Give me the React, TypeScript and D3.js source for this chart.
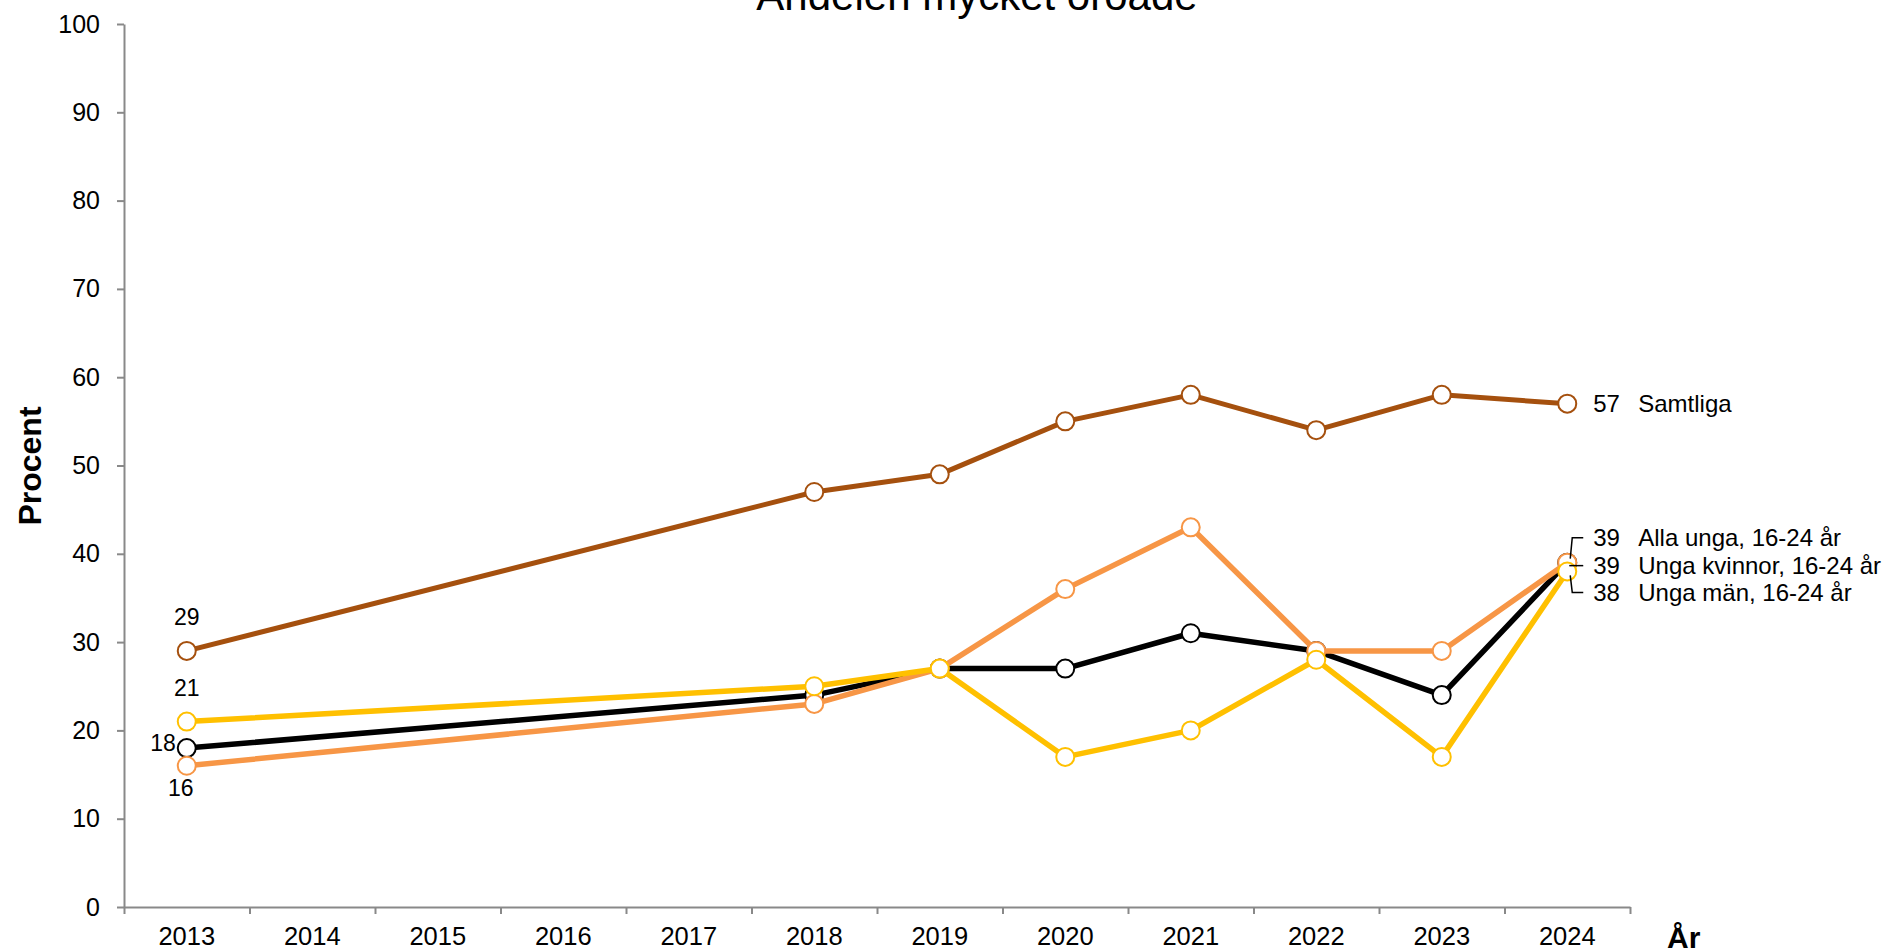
import React, { useEffect, useRef } from 'react'
import * as d3 from 'd3'

const years = ['2013', '2014', '2015', '2016', '2017', '2018', '2019', '2020', '2021', '2022', '2023', '2024']
// null = no survey that year, the line just goes straight over the gap
const samtliga = [29, null, null, null, null, 47, 49, 55, 58, 54, 58, 57]
const allaUnga = [18, null, null, null, null, 24, 27, 27, 31, 29, 24, 39]
const ungaKvinnor = [16, null, null, null, null, 23, 27, 36, 43, 29, 29, 39]
const ungaMan = [21, null, null, null, null, 25, 27, 17, 20, 28, 17, 38]
const seriesNames = ['Samtliga', 'Alla unga, 16-24 år', 'Unga kvinnor, 16-24 år', 'Unga män, 16-24 år']
const yTicks = [0, 10, 20, 30, 40, 50, 60, 70, 80, 90, 100]

const FONT = "'Liberation Sans', Arial, sans-serif"

export default function App() {
    const ref = useRef<SVGSVGElement>(null)

    useEffect(() => {
        const width = 1888, height = 952
        const margin = { top: 24, right: 258, bottom: 45, left: 124 }
        const svg = d3.select(ref.current).attr('width', width).attr('height', height)
        svg.selectAll('*').remove()

        let x = d3.scaleBand().domain(years).range([margin.left, width - margin.right])
        let xEdge = d3.scaleLinear().domain([0, years.length]).range([margin.left, width - margin.right])
        let y = d3.scaleLinear().domain([0, 100]).range([height - margin.bottom, margin.top])
        const cx = (yr: string) => x(yr)! + x.bandwidth() / 2

        // axes
        const gy = svg.append('g').attr('transform', `translate(${margin.left},0)`)
            .call(d3.axisLeft(y).tickValues(yTicks).tickSize(7).tickSizeOuter(0).tickPadding(17))
        const gx = svg.append('g').attr('transform', `translate(0,${height - margin.bottom})`)
            .call(d3.axisBottom(xEdge).tickValues(d3.range(years.length + 1)).tickSize(7).tickSizeOuter(0).tickFormat(() => ''))
        for (const g of [gx, gy]) {
            g.selectAll('path, line').attr('stroke', '#898989').attr('stroke-width', 2)
        }
        gy.selectAll('text').attr('font-family', FONT).attr('font-size', 25).attr('fill', '#000')

        svg.append('g').selectAll('text').data(years).enter().append('text')
            .attr('x', d => cx(d)).attr('y', 945)
            .attr('text-anchor', 'middle')
            .attr('font-family', FONT).attr('font-size', 25.5)
            .text(d => d)

        // series: drawn in this order so yellow ends up on top like the original
        const series = [
            { name: seriesNames[0], values: samtliga, color: '#A5500E', width: 5 },
            { name: seriesNames[1], values: allaUnga, color: '#000000', width: 5.5 },
            { name: seriesNames[2], values: ungaKvinnor, color: '#F79646', width: 5.5 },
            { name: seriesNames[3], values: ungaMan, color: '#FFC000', width: 5.5 },
        ]

        let line = d3.line<{ year: string, v: number }>()
            .x(d => cx(d.year))
            .y(d => y(d.v))

        series.forEach(s => {
            const pts = years.map((year, i) => ({ year, v: s.values[i] as number }))
                .filter(p => p.v !== null)
            const g = svg.append('g')
            g.append('path')
                .datum(pts)
                .attr('fill', 'none')
                .attr('stroke', s.color)
                .attr('stroke-width', s.width)
                .attr('stroke-linejoin', 'round')
                .attr('d', line)
            g.selectAll('circle').data(pts).enter().append('circle')
                .attr('cx', d => cx(d.year))
                .attr('cy', d => y(d.v))
                .attr('r', 9)
                .attr('fill', '#fff')
                .attr('stroke', s.color)
                .attr('stroke-width', 2)
        })

        // first-year labels
        const first = [
            { v: samtliga[0]!, dx: 0, dy: -34, anchor: 'middle' },
            { v: ungaMan[0]!, dx: 0, dy: -34, anchor: 'middle' },
            { v: allaUnga[0]!, dx: -11, dy: -5, anchor: 'end' },
            { v: ungaKvinnor[0]!, dx: -6, dy: 22, anchor: 'middle' },
        ]
        first.forEach(f => {
            svg.append('text')
                .attr('x', cx(years[0]) + f.dx).attr('y', y(f.v) + f.dy)
                .attr('text-anchor', f.anchor).attr('dominant-baseline', 'central')
                .attr('font-family', FONT).attr('font-size', 23)
                .text(f.v)
        })

        // end labels with leader lines
        const last = years.length - 1
        const xEnd = cx(years[last])
        const labelDy = [0, -25, 3, 21]
        series.forEach((s, i) => {
            const v = s.values[last] as number
            const ly = y(v) + labelDy[i]
            if (i > 0) {
                const pts: [number, number][] = i === 2
                    ? [[xEnd + 2, ly], [xEnd + 16, ly]]
                    : [[xEnd + 3, y(v) + (i === 1 ? -4 : 4)], [xEnd + 5, ly], [xEnd + 16, ly]]
                svg.append('path')
                    .attr('d', d3.line()(pts))
                    .attr('fill', 'none').attr('stroke', '#000').attr('stroke-width', 1.5)
            }
            svg.append('text')
                .attr('x', xEnd + 26).attr('y', ly)
                .attr('dominant-baseline', 'central')
                .attr('font-family', FONT).attr('font-size', 24)
                .text(v)
            svg.append('text')
                .attr('x', xEnd + 71).attr('y', ly)
                .attr('dominant-baseline', 'central')
                .attr('font-family', FONT).attr('font-size', 24)
                .text(s.name)
        })

        // titles
        svg.append('text')
            .attr('x', 977).attr('y', 10)
            .attr('text-anchor', 'middle')
            .attr('font-family', FONT).attr('font-size', 42)
            .text('Andelen mycket oroade')

        svg.append('text')
            .attr('transform', 'translate(30,466) rotate(-90)')
            .attr('text-anchor', 'middle').attr('dominant-baseline', 'central')
            .attr('font-family', FONT).attr('font-size', 32).attr('font-weight', 'bold')
            .text('Procent')

        svg.append('text')
            .attr('x', 1667).attr('y', 948)
            .attr('font-family', FONT).attr('font-size', 30).attr('font-weight', 'bold')
            .text('År')
    }, [])

    return (
        <svg ref={ref} style={{ position: 'absolute', left: 0, top: 0, background: '#fff' }} />
    )
}
